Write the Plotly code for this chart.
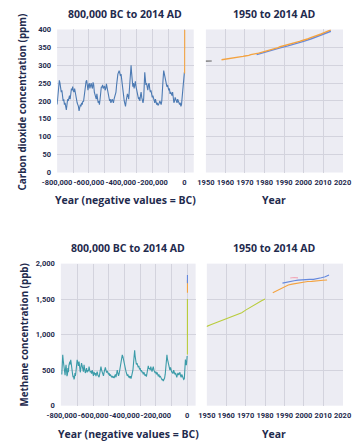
import plotly.graph_objects as go

# ---------------- DATA ----------------
# Ice-core CO2 (thousands of years relative to present; ppm)
co2_ice_kyr = [-800,-795,-790,-786,-782,-778,-774,-770,-766,-762,-758,-754,-750,-746,-742,-738,-734,-730,-726,-722,
               -718,-714,-710,-706,-702,-698,-694,-690,-686,-682,-678,-674,-670,-666,-662,-658,-654,-650,-646,-642,
               -638,-634,-630,-626,-622,-618,-614,-610,-606,-602,-598,-594,-590,-586,-582,-578,-574,-570,-566,-562,
               -558,-554,-550,-546,-542,-538,-534,-530,-526,-522,-518,-514,-510,-506,-502,-498,-494,-490,-486,-482,
               -478,-474,-470,-466,-462,-458,-454,-450,-446,-442,-438,-434,-430,-426,-422,-418,-414,-410,-406,-402,
               -398,-394,-390,-386,-382,-378,-374,-370,-366,-362,-358,-354,-350,-346,-342,-338,-335,-332,-328,-324,
               -320,-316,-312,-308,-304,-300,-296,-292,-288,-284,-280,-276,-272,-268,-264,-260,-256,-252,-249,-246,
               -242,-238,-234,-230,-226,-222,-218,-214,-210,-206,-202,-198,-194,-190,-186,-182,-178,-174,-170,-166,
               -162,-158,-154,-150,-146,-142,-138,-134,-130,-126,-122,-118,-114,-110,-106,-102,-98,-94,-90,-86,
               -82,-78,-74,-70,-66,-62,-58,-54,-50,-46,-42,-38,-34,-30,-26,-22,-18,-14,-11,-8,-4,-1,0]
co2_ice_ppm = [190,215,240,258,250,240,225,230,210,200,205,190,195,180,175,190,205,200,210,215,
               205,225,235,230,240,228,225,235,225,205,200,195,190,185,172,180,190,185,195,190,
               200,198,215,235,245,255,258,240,230,245,250,235,245,250,240,235,252,245,225,215,
               210,205,220,210,195,200,190,205,230,240,238,245,235,240,242,230,235,248,240,225,
               220,215,200,205,195,200,205,200,195,205,210,215,225,245,265,275,280,285,278,270,
               275,255,240,225,215,200,190,185,200,210,220,215,205,230,260,285,300,280,260,240,
               250,235,245,255,240,230,225,215,205,210,200,215,225,210,200,195,205,240,280,265,
               245,250,240,230,245,250,235,225,230,220,210,215,205,200,195,205,200,190,195,188,
               190,195,200,195,190,200,220,260,285,275,270,265,255,240,245,235,230,235,220,225,
               220,215,225,205,195,200,210,205,200,195,205,200,195,190,195,185,190,210,240,260,265,275,280]

# Recent CO2 (years AD; ppm)
co2_lawdome_year = [1750, 1800, 1850, 1880, 1900, 1920, 1940, 1950, 1953]
co2_lawdome_ppm  = [277, 283, 285, 291, 296, 303, 310, 311, 312]
co2_maunaloa_year = [1958,1959,1960,1961,1962,1963,1964,1965,1966,1967,1968,1969,1970,1971,1972,1973,1974,1975,1976,1977,1978,
                     1979,1980,1981,1982,1983,1984,1985,1986,1987,1988,1989,1990,1991,1992,1993,1994,1995,1996,1997,1998,
                     1999,2000,2001,2002,2003,2004,2005,2006,2007,2008,2009,2010,2011,2012,2013,2014]
co2_maunaloa_ppm = [315.3,316.0,316.9,317.6,318.5,319.0,319.6,320.0,321.4,322.2,323.0,324.6,325.7,326.3,327.5,329.7,330.2,331.1,332.0,333.8,335.4,
                    336.8,338.8,340.1,341.5,343.1,344.7,346.1,347.4,349.2,351.6,353.1,354.4,355.6,356.5,357.1,358.8,360.8,362.6,363.7,366.7,
                    368.4,369.6,371.1,373.3,375.8,377.5,379.8,381.9,383.8,385.6,387.4,389.9,391.7,393.9,396.5,398.7]
co2_capegrim_year = [1976,1980,1984,1988,1992,1996,2000,2004,2008,2012,2014]
co2_capegrim_ppm  = [329.5,336.5,342.0,348.5,354.0,359.5,366.5,374.0,382.0,390.0,395.0]

# Ice-core methane (thousands of years; ppb)
ch4_ice_kyr = [-800,-797,-794,-791,-788,-785,-782,-779,-776,-773,-770,-767,-764,-761,-758,-755,-752,-749,-746,-743,
               -740,-737,-734,-731,-728,-725,-722,-719,-716,-713,-710,-706,-702,-698,-694,-690,-686,-682,-678,-674,
               -670,-666,-662,-658,-654,-650,-646,-642,-638,-634,-630,-626,-622,-618,-614,-610,-606,-602,-598,-594,
               -590,-586,-582,-578,-574,-570,-566,-562,-558,-554,-550,-546,-542,-538,-534,-530,-526,-522,-518,-514,
               -510,-506,-502,-498,-494,-490,-486,-482,-478,-474,-470,-466,-462,-458,-454,-450,-446,-442,-438,-434,
               -430,-426,-422,-418,-414,-410,-406,-402,-398,-394,-390,-386,-382,-378,-374,-370,-366,-362,-358,-354,
               -350,-346,-342,-338,-335,-332,-328,-324,-320,-316,-312,-308,-304,-300,-296,-292,-288,-284,-280,-276,
               -272,-268,-264,-260,-256,-252,-248,-244,-240,-236,-232,-228,-224,-220,-216,-212,-208,-204,-200,-196,
               -192,-188,-184,-180,-176,-172,-168,-164,-160,-156,-152,-148,-144,-140,-136,-132,-129,-126,-122,-118,
               -114,-110,-106,-102,-98,-94,-90,-86,-82,-78,-74,-70,-66,-62,-58,-54,-50,-46,-42,-38,
               -34,-30,-26,-22,-18,-14,-11,-8,-5,-2,0]
ch4_ice_ppb = [440,600,715,640,575,520,485,430,520,575,500,415,440,530,470,560,600,620,580,645,
               600,510,480,440,400,420,370,390,460,420,470,560,645,610,560,620,530,470,540,600,
               560,510,480,575,520,460,490,530,470,500,485,550,500,470,485,450,500,440,420,475,
               440,460,415,450,480,430,420,400,450,520,550,500,470,450,420,470,520,540,500,465,
               490,470,440,460,420,440,415,400,420,395,410,390,420,440,400,470,500,460,420,450,
               500,560,650,700,715,690,640,620,560,530,480,450,420,440,400,420,390,415,380,420,
               450,500,600,700,780,700,620,580,600,575,540,560,510,530,485,500,470,480,440,470,
               450,420,440,410,460,540,560,520,530,500,550,510,480,520,550,500,470,460,480,440,
               470,430,415,440,400,420,390,380,360,375,345,370,390,440,560,680,715,660,620,560,
               520,500,540,490,470,480,450,500,470,440,460,420,400,440,460,430,445,470,420,400,
               440,410,390,370,380,480,650,600,570,640,700]

# Recent methane (years AD; ppb)
ch4_comp_year = [1750,1800,1850,1900,1930,1950,1952,1954,1956,1958,1960,1962,1964,1966,1968,1970,1972,1974,1976,1978,1980]
ch4_comp_ppb  = [720,740,790,900,1030,1117,1140,1160,1185,1210,1230,1250,1265,1290,1310,1345,1380,1410,1440,1475,1503]
ch4_orange_year = [1984,1986,1988,1990,1992,1994,1996,1998,2000,2002,2004,2006,2008,2010,2012]
ch4_orange_ppb  = [1590,1620,1650,1680,1700,1712,1722,1735,1742,1748,1750,1752,1758,1765,1770]
ch4_blue_year = [1989,1991,1993,1995,1997,1999,2001,2003,2005,2007,2009,2011,2013]
ch4_blue_ppb  = [1725,1740,1752,1760,1768,1775,1778,1779,1778,1785,1800,1815,1840]
ch4_pink_year = [1993,1995,1997]
ch4_pink_ppb  = [1798,1805,1800]

# Tick labels
left_ticks = [-800000,-700000,-600000,-500000,-400000,-300000,-200000,-100000,0]
left_ticktext = ["-800,000","","-600,000","","-400,000","","-200,000","","0"]
right_ticks = [1950,1960,1970,1980,1990,2000,2010,2020]
co2_ticks = [0,50,100,150,200,250,300,350,400]
ch4_ticks = [0,500,1000,1500,2000]
ch4_ticktext = ["0","500","1,000","1,500","2,000"]

# ---------------- STYLE ----------------
NAVY = "#1f2b4e"
BG = "#ececf3"
GRID = "#d3d3dd"
FONT = "Open Sans"
TICKFONT = "Liberation Sans Narrow, Arial Narrow, Roboto, sans-serif"
BLUE = "#4c7ab3"
ORANGE = "#f4a340"
TEAL = "#3b9ba8"
GREEN = "#b9cc3c"
BLUE2 = "#6488dd"
PINK = "#f2a7b8"
GREY = "#666666"

fig = go.Figure()

def line(x, y, color, xa, ya, w=1.1):
    fig.add_trace(go.Scatter(x=x, y=y, mode="lines", line=dict(color=color, width=w),
                             xaxis=xa, yaxis=ya, showlegend=False, hoverinfo="skip"))

# Top-left CO2 long record
line([k * 1000 for k in co2_ice_kyr], co2_ice_ppm, BLUE, "x", "y")
line(co2_lawdome_year + co2_maunaloa_year, co2_lawdome_ppm + co2_maunaloa_ppm, ORANGE, "x", "y")
# Top-right CO2 recent
line(co2_lawdome_year, co2_lawdome_ppm, GREY, "x2", "y2")
line(co2_capegrim_year, co2_capegrim_ppm, BLUE2, "x2", "y2", 1.4)
line(co2_maunaloa_year, co2_maunaloa_ppm, ORANGE, "x2", "y2", 1.4)
# Bottom-left methane long record
line([k * 1000 for k in ch4_ice_kyr], ch4_ice_ppb, TEAL, "x3", "y3")
line(ch4_comp_year, ch4_comp_ppb, GREEN, "x3", "y3")
line(ch4_orange_year, ch4_orange_ppb, ORANGE, "x3", "y3")
line(ch4_blue_year, ch4_blue_ppb, BLUE2, "x3", "y3")
# Bottom-right methane recent
line(ch4_comp_year, ch4_comp_ppb, GREEN, "x4", "y4")
line(ch4_orange_year, ch4_orange_ppb, ORANGE, "x4", "y4")
line(ch4_pink_year, ch4_pink_ppb, PINK, "x4", "y4")
line(ch4_blue_year, ch4_blue_ppb, BLUE2, "x4", "y4")

tickfont = dict(family=TICKFONT, size=7.5, color=NAVY, weight=700)
common = dict(showgrid=True, gridcolor=GRID, gridwidth=1, zeroline=False, showline=False,
              ticks="", tickfont=tickfont, fixedrange=True, tickangle=0,
              ticklabeloverflow="allow")

W, H = 358, 444
def dx(a, b): return [a / W, b / W]
def dy(top, bottom): return [1 - bottom / H, 1 - top / H]

fig.update_layout(
    width=W, height=H, margin=dict(l=0, r=0, t=0, b=0),
    paper_bgcolor="white", plot_bgcolor=BG,
    xaxis=dict(domain=dx(45, 191), range=[-800000, 58800], tickmode="array",
               tickvals=left_ticks, ticktext=left_ticktext, anchor="y", ticklabelstandoff=4, **common),
    yaxis=dict(domain=dy(26, 172), range=[0, 400], tickmode="array", tickvals=co2_ticks,
               anchor="x", ticklabelstandoff=5, **common),
    xaxis2=dict(domain=dx(204, 350.5), range=[1950, 2020.2], tickmode="array", tickvals=right_ticks,
                anchor="y2", ticklabelstandoff=4, **common),
    yaxis2=dict(domain=dy(26, 172), range=[0, 400], tickmode="array", tickvals=co2_ticks,
                showticklabels=False, anchor="x2", **common),
    xaxis3=dict(domain=dx(49, 193), range=[-806000, 54000], tickmode="array",
                tickvals=left_ticks, ticktext=left_ticktext, anchor="y3", ticklabelstandoff=4, **common),
    yaxis3=dict(domain=dy(265, 410), range=[0, 2000], tickmode="array", tickvals=ch4_ticks,
                ticktext=ch4_ticktext, anchor="x3", ticklabelstandoff=5, **common),
    xaxis4=dict(domain=dx(205, 350.5), range=[1950, 2020.2], tickmode="array", tickvals=right_ticks,
                anchor="y4", ticklabelstandoff=4, **common),
    yaxis4=dict(domain=dy(265, 410), range=[0, 2000], tickmode="array", tickvals=ch4_ticks,
                showticklabels=False, anchor="x4", **common),
)

def ann(text, x, y, size=10.5, angle=0):
    fig.add_annotation(text=text, x=x / W, y=1 - y / H, xref="paper", yref="paper",
                       showarrow=False, textangle=angle, xanchor="center", yanchor="middle",
                       font=dict(family=FONT, size=size, color=NAVY, weight=700))

ann("800,000 BC to 2014 AD", 118, 10)
ann("1950 to 2014 AD", 277, 10)
ann("Year (negative values = BC)", 118, 200)
ann("Year", 277, 200)
ann("Carbon dioxide concentration (ppm)", 8, 100, size=9.8, angle=-90)
ann("800,000 BC to 2014 AD", 121, 249)
ann("1950 to 2014 AD", 277, 249)
ann("Year (negative values = BC)", 121, 439)
ann("Year", 277, 439)
ann("Methane concentration (ppb)", 10, 338, size=9.8, angle=-90)

fig.write_html("out.html")
